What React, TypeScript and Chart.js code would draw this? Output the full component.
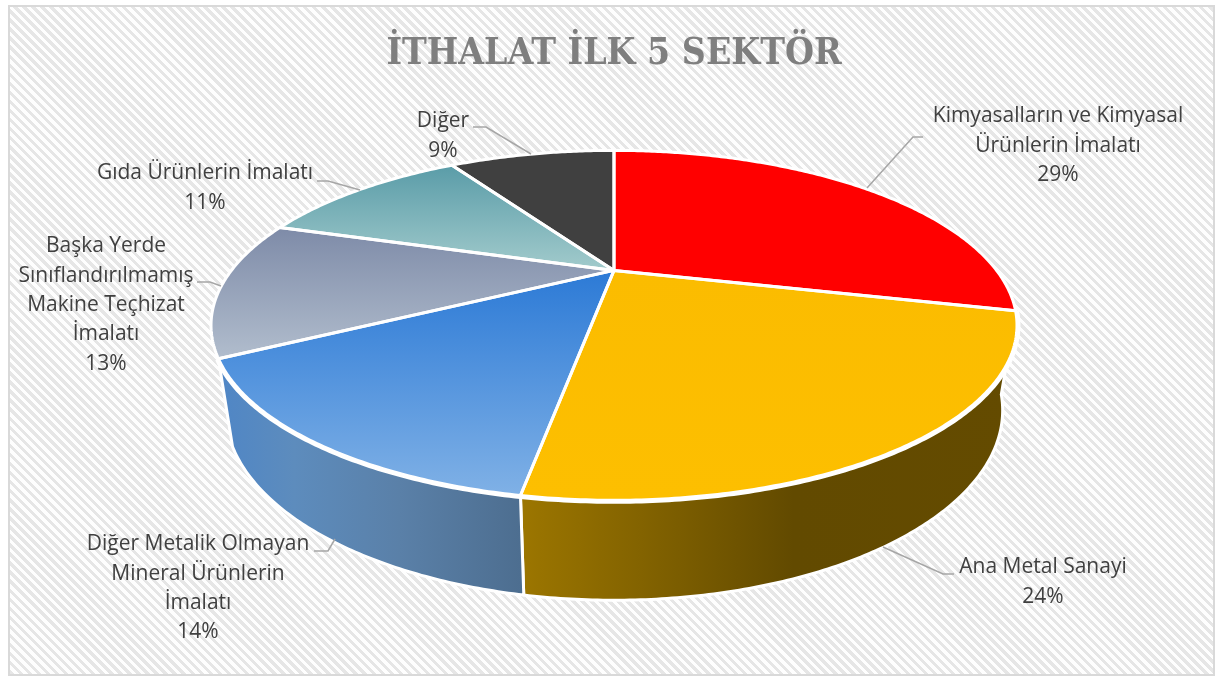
import React, { useEffect, useRef } from "react";
import { Chart, registerables } from "chart.js";

Chart.register(...registerables);

const TITLE = "İTHALAT İLK 5 SEKTÖR";
const categories = [
  "Kimyasalların ve Kimyasal\nÜrünlerin İmalatı",
  "Ana Metal Sanayi",
  "Diğer Metalik Olmayan\nMineral Ürünlerin\nİmalatı",
  "Başka Yerde\nSınıflandırılmamış\nMakine Teçhizat\nİmalatı",
  "Gıda Ürünlerin İmalatı",
  "Diğer",
];
const shares = [28.8, 23.9, 14.4, 12.7, 11.2, 9.0];

// face fill: [top colour, bottom colour] as vertical gradient
const faceColors = [
  ["#ff0000", "#ff0000"],
  ["#fbbc00", "#fdbf00"],
  ["#2c7ad6", "#80b1e6"],
  ["#7e8ba8", "#b1bdcd"],
  ["#5a9ca8", "#a2cbcc"],
  ["#404040", "#404040"],
];
// wall fill: horizontal [offset, colour] stops
const wallColors: [number, string][][] = [
  [],
  [[0, "#9c7600"], [0.28, "#7f6000"], [0.55, "#624a00"], [1, "#644b00"]],
  [[0, "#4f86c6"], [0.25, "#5d8cbd"], [0.6, "#5a80a8"], [1, "#4d6e90"]],
  [],
  [],
  [],
];

// label centre x and the y of the first line's middle
const labelCenterX = [1058, 1043, 198, 106, 205, 443];
const labelFirstY = [116.5, 567.5, 544.5, 246.5, 173.5, 121.5];
const leaderLines = [
  [[923, 137], [913, 137], [867, 188]],
  [[954, 574], [943, 574], [883, 547]],
  [[314, 551], [328, 551], [335, 539]],
  [[197, 282], [210, 282], [221, 286]],
  [[317, 181], [328, 181], [360, 190]],
  [[473, 127], [486, 127], [531, 154]],
];

const LINE_H = 29.3;
const K = 0.314;
const TOP = { a: 382.6, b: 157.7, dy: 0 };
const BOTTOM = { a: 369, b: 171.2, dy: 80.3 };

type Ring = { a: number; b: number; dy: number };
const project = (cx: number, cy: number, ang: number, r: Ring): [number, number] => {
  const u = Math.cos(ang);
  const v = Math.sin(ang);
  const w = 1 - K * v;
  return [cx + (r.a * u) / w, cy + r.dy + (r.b * v) / w];
};

const traceArc = (ctx: CanvasRenderingContext2D, cx: number, cy: number, s: number, e: number) => {
  const n = Math.max(8, Math.ceil((e - s) / 0.01));
  for (let i = 0; i <= n; i++) {
    const [x, y] = project(cx, cy, s + ((e - s) * i) / n, TOP);
    if (i === 0) ctx.moveTo(x, y);
    else ctx.lineTo(x, y);
  }
};

const tracePie3D = (ctx: CanvasRenderingContext2D, cx: number, cy: number, s: number, e: number) => {
  ctx.beginPath();
  ctx.moveTo(cx, cy);
  const n = Math.max(8, Math.ceil((e - s) / 0.01));
  for (let i = 0; i <= n; i++) {
    const [x, y] = project(cx, cy, s + ((e - s) * i) / n, TOP);
    ctx.lineTo(x, y);
  }
  ctx.closePath();
};

const traceWall = (ctx: CanvasRenderingContext2D, cx: number, cy: number, s: number, e: number) => {
  ctx.beginPath();
  traceArc(ctx, cx, cy, s, e);
  const n = Math.max(8, Math.ceil((e - s) / 0.01));
  for (let i = n; i >= 0; i--) {
    const [x, y] = project(cx, cy, s + ((e - s) * i) / n, BOTTOM);
    ctx.lineTo(x, y);
  }
  ctx.closePath();
};

const facesViewer = (arc: any) => Math.sin((arc.startAngle + arc.endAngle) / 2) >= 0.3;

const pie3D = {
  id: "pie3D",
  beforeDatasetDraw(chart: any, args: any) {
    const ctx: CanvasRenderingContext2D = chart.ctx;
    const arcs = args.meta.data;
    ctx.save();
    ctx.strokeStyle = "#ffffff";
    ctx.lineJoin = "round";
    arcs.forEach((arc: any, i: number) => {
      if (!facesViewer(arc)) return;
      let minX = Infinity;
      let maxX = -Infinity;
      for (let t = 0; t <= 40; t++) {
        const [x] = project(arc.x, arc.y, arc.startAngle + ((arc.endAngle - arc.startAngle) * t) / 40, TOP);
        minX = Math.min(minX, x);
        maxX = Math.max(maxX, x);
      }
      const g = ctx.createLinearGradient(minX, 0, maxX, 0);
      wallColors[i].forEach(([p, c]) => g.addColorStop(p, c));
      traceWall(ctx, arc.x, arc.y, arc.startAngle, arc.endAngle);
      ctx.fillStyle = g;
      ctx.fill();
      ctx.lineWidth = 3;
      ctx.stroke();
    });
    arcs.forEach((arc: any) => {
      if (facesViewer(arc)) {
        ctx.beginPath();
        traceArc(ctx, arc.x, arc.y, arc.startAngle, arc.endAngle);
        ctx.lineWidth = 7;
        ctx.stroke();
      }
    });
    arcs.forEach((arc: any, i: number) => {
      let minY = arc.y;
      let maxY = arc.y;
      for (let t = 0; t <= 40; t++) {
        const [, y] = project(arc.x, arc.y, arc.startAngle + ((arc.endAngle - arc.startAngle) * t) / 40, TOP);
        minY = Math.min(minY, y);
        maxY = Math.max(maxY, y);
      }
      const g = ctx.createLinearGradient(0, minY, 0, maxY);
      g.addColorStop(0, faceColors[i][0]);
      g.addColorStop(1, faceColors[i][1]);
      tracePie3D(ctx, arc.x, arc.y, arc.startAngle, arc.endAngle);
      ctx.fillStyle = g;
      ctx.fill();
    });
    arcs.forEach((arc: any) => {
      tracePie3D(ctx, arc.x, arc.y, arc.startAngle, arc.endAngle);
      ctx.lineWidth = 3;
      ctx.stroke();
    });
    ctx.restore();
    return false;
  },
  afterDatasetsDraw(chart: any) {
    const ctx: CanvasRenderingContext2D = chart.ctx;
    ctx.save();
    ctx.strokeStyle = "#a6a6a6";
    ctx.lineWidth = 1.5;
    leaderLines.forEach((pts) => {
      ctx.beginPath();
      pts.forEach(([x, y], j) => (j ? ctx.lineTo(x, y) : ctx.moveTo(x, y)));
      ctx.stroke();
    });
    ctx.fillStyle = "#404040";
    ctx.font = '21px "Open Sans"';
    ctx.textAlign = "center";
    ctx.textBaseline = "middle";
    categories.forEach((cat, i) => {
      const lines = [...cat.split("\n"), `${Math.round(shares[i])}%`];
      lines.forEach((ln, j) => ctx.fillText(ln, labelCenterX[i], labelFirstY[i] + j * LINE_H));
    });
    ctx.restore();
  },
};

export default function App() {
  const ref = useRef<HTMLCanvasElement>(null);
  useEffect(() => {
    const chart = new Chart(ref.current!, {
      type: "pie",
      data: {
        labels: categories,
        datasets: [{ data: shares, backgroundColor: faceColors.map((c) => c[0]) }],
      },
      options: {
        responsive: false,
        animation: false,
        events: [],
        layout: { padding: { left: 9, bottom: 217.2 } },
        plugins: {
          legend: { display: false },
          tooltip: { enabled: false },
          title: {
            display: true,
            text: TITLE,
            color: "#7f7f7f",
            font: { family: '"DejaVu Serif Condensed", "DejaVu Serif"', size: 37, weight: "bold" },
            padding: { top: 32, bottom: 3.6 },
          },
        },
      },
      plugins: [pie3D],
    } as any);
    return () => chart.destroy();
  }, []);
  return (
    <div style={{ position: "absolute", left: 0, top: 0, width: 1219, height: 678, background: "#fff", overflow: "hidden" }}>
      <div
        style={{
          position: "absolute",
          left: 8,
          top: 5,
          width: 1203,
          height: 667,
          border: "2.5px solid #d9d9d9",
          background: "repeating-linear-gradient(45deg,#e6e6e6 0 3.2px,#fefefe 3.2px 6.4px)",
        }}
      />
      <canvas ref={ref} width={1219} height={678} style={{ position: "absolute", left: 0, top: 0 }} />
    </div>
  );
}
